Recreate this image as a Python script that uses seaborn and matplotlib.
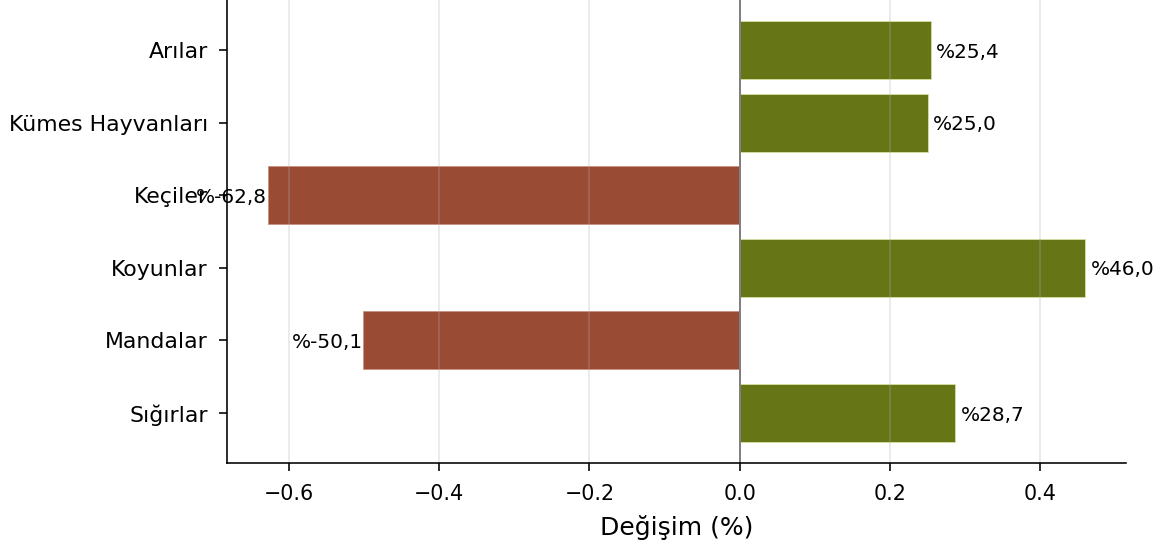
import matplotlib
matplotlib.use("Agg")
import matplotlib.pyplot as plt
import seaborn as sns
import pandas as pd

# veriler
hayvanlar = ['Arılar', 'Kümes Hayvanları', 'Keçiler', 'Koyunlar', 'Mandalar', 'Sığırlar']
degisim = [0.254, 0.250, -0.628, 0.460, -0.501, 0.287]
renkler = ['#667516' if v > 0 else '#9a4b34' for v in degisim]

df = pd.DataFrame({'hayvan': hayvanlar, 'degisim': degisim})

fig = plt.figure(figsize=(1164 / 144, 548 / 144), dpi=144)
ax = fig.add_axes([0.195, 0.155, 0.7725, 0.845])

sns.barplot(data=df, x='degisim', y='hayvan', hue='hayvan', palette=renkler,
            legend=False, width=0.8, saturation=1, ax=ax,
            edgecolor='#d8e0a0', linewidth=0.4)
for p, c in zip(ax.patches, renkler):
    if c == '#9a4b34':
        p.set_edgecolor('#c89080')

ax.axvline(0, color='gray', linewidth=1)
ax.grid(axis='x', alpha=0.3)
ax.set_ylim(len(hayvanlar) - 1 + 0.69, -0.69)
ax.margins(x=0.05)

# etiketler
for i, v in enumerate(degisim):
    etiket = f"%{v * 100:.1f}".replace('.', ',')
    if v > 0:
        ax.text(v + 0.007, i + 0.03, etiket, va='center', ha='left', fontsize=10)
    else:
        ax.text(v - 0.001, i + 0.03, etiket, va='center', ha='right', fontsize=10)

ax.set_xlabel('Değişim (%)', fontsize=12.5, labelpad=5.5)
ax.set_ylabel('')
ax.tick_params(axis='y', labelsize=11, pad=5.5, length=4)
ax.tick_params(axis='x', labelsize=10.3, pad=6.5, length=4)
sns.despine(ax=ax)

fig.savefig('out.png', dpi=144)
